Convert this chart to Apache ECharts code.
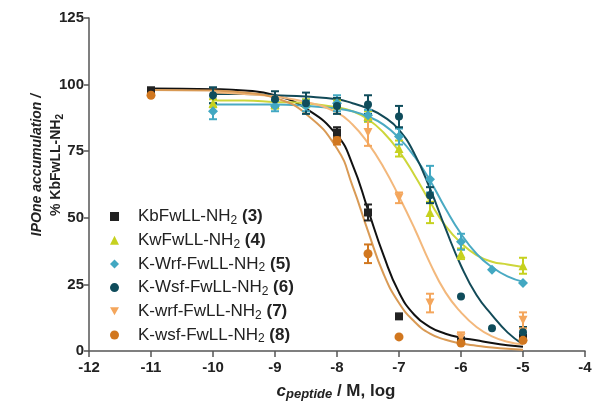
<!DOCTYPE html>
<html>
<head>
<meta charset="utf-8">
<script src="https://cdn.jsdelivr.net/npm/echarts@6/dist/echarts.min.js"></script>
<style>
  html, body { margin: 0; padding: 0; background: #fff; }
  #chart { width: 595px; height: 405px; }
</style>
</head>
<body>
<div id="chart"></div>
<script>
  // legend labels: peptide name (without the subscript 2) and compound number
  var peptideNames = ['KbFwLL-NH', 'KwFwLL-NH', 'K-Wrf-FwLL-NH', 'K-Wsf-FwLL-NH', 'K-wrf-FwLL-NH', 'K-wsf-FwLL-NH'];
  var peptideNums = ['3', '4', '5', '6', '7', '8'];

  // measured points: log c (M), % response, error (+/-)
  var x3 = [-11, -8, -7.5, -7, -6, -5];
  var y3 = [97.5, 82, 52, 13, 4, 5];
  var e3 = [1.5, 2, 3, 0, 0, 1];

  var x4 = [-10, -9, -8.5, -8, -7.5, -7, -6.5, -6, -5];
  var y4 = [93, 92.5, 93, 92.5, 88, 76, 52, 36.5, 32];
  var e4 = [1.5, 1.5, 1.5, 1.5, 2, 3, 4, 2, 3];

  var x5 = [-10, -9, -8.5, -8, -7.5, -7, -6.5, -6, -5.5, -5];
  var y5 = [90, 92, 92, 93, 88.5, 80.5, 64.5, 41, 30.5, 25.5];
  var e5 = [3, 2, 2, 3, 2, 3, 5, 3, 0, 0];

  var x6 = [-10, -9, -8.5, -8, -7.5, -7, -6.5, -6, -5.5, -5];
  var y6 = [96, 94.5, 93, 92, 92.5, 88, 58.5, 20.5, 8.5, 7];
  var e6 = [3, 3, 4, 3, 3.5, 4, 3, 0, 0, 2];

  var x7 = [-7.5, -7, -6.5, -6, -5];
  var y7 = [82, 57.5, 18, 5, 11.5];
  var e7 = [5, 2, 3.5, 2, 3];

  var x8 = [-11, -8, -7.5, -7, -6, -5];
  var y8 = [96, 79, 36.5, 5.3, 3, 4];
  var e8 = [0, 1.5, 3.5, 0, 0, 0];

  // fitted curves
  var fitX  = [-11, -10, -9.5, -9, -8.5, -8, -7.75, -7.5, -7.25, -7, -6.75, -6.5, -6.25, -6, -5.75, -5.5, -5.25, -5];
  var fit3  = [98.5, 98.3, 97.8, 96, 91, 81, 70, 53, 36, 22, 13.5, 9, 6.5, 5, 4, 3, 2.2, 1.6];
  var fit4  = [null, 94, 94, 93.5, 93, 91.5, 90, 87, 82, 75, 66, 56, 47, 40.5, 36, 33.5, 32.5, 31.5];
  var fit5  = [null, 92.5, 92.5, 92.5, 92, 91, 90, 88, 85, 80, 73, 64, 53.5, 44, 36.5, 31.5, 28, 26];
  var fit6  = [null, 96.5, 96.5, 96, 95.5, 94.5, 93, 91, 88, 83, 74, 61, 46, 32, 21, 13.5, 7, 2.5];
  var fit7  = [null, 97, 96.5, 95.5, 93.5, 89.5, 85, 78, 69, 58, 46, 33, 22, 14.5, 9, 5.5, 3.5, 2.5];
  var fit8  = [98, 97.8, 97, 95, 89, 76, 62, 45, 29, 18, 11, 6.5, 4.2, 2.8, 2, 1.3, 0.8, 0.5];

  var colors    = ['#222222', '#c6d11f', '#42a8c2', '#0f4c5b', '#f4a65c', '#d1771f'];
  var fitColors = ['#111111', '#cdd63a', '#4aaac3', '#124a58', '#f3b87c', '#d99a55'];
  var symbols   = ['rect', 'triangle', 'diamond', 'circle', 'triangle', 'circle'];
  var symRot    = [0, 0, 0, 0, 180, 0];
  var symSize   = [8, 9, 10, 8, 9, 9];
  // legend icons (inverted triangle as a path so it is drawn pointing down)
  var legendIcons = ['rect', 'triangle', 'diamond', 'circle', 'path://M0,0 L10,0 L5,9 Z', 'circle'];

  var xs = [x3, x4, x5, x6, x7, x8];
  var ys = [y3, y4, y5, y6, y7, y8];
  var es = [e3, e4, e5, e6, e7, e8];
  var fits = [fit3, fit4, fit5, fit6, fit7, fit8];

  var font = '"Liberation Sans", Arial, sans-serif';

  var seriesNames = peptideNames.map(function (n, i) { return n + '2 (' + peptideNums[i] + ')'; });

  var chart = echarts.init(document.getElementById('chart'));
  var series = [];

  // curves
  fits.forEach(function (f, i) {
    series.push({
      name: 'fit' + i,
      type: 'line',
      data: fitX.map(function (x, k) { return [x, f[k]]; }).filter(function (p) { return p[1] !== null; }),
      smooth: true,
      showSymbol: false,
      silent: true,
      z: 2,
      lineStyle: { color: fitColors[i], width: 2 }
    });
  });

  // error bars
  xs.forEach(function (xArr, i) {
    series.push({
      name: 'err' + i,
      type: 'custom',
      z: 3,
      silent: true,
      data: xArr.map(function (x, k) { return [x, ys[i][k], es[i][k]]; }),
      encode: { x: 0, y: 1 },
      renderItem: function (params, api) {
        var x = api.value(0), y = api.value(1), e = api.value(2);
        if (!e) return;
        var top = api.coord([x, y + e]);
        var bot = api.coord([x, y - e]);
        var w = 4;
        var st = { stroke: colors[i], lineWidth: 2 };
        return {
          type: 'group',
          children: [
            { type: 'line', shape: { x1: top[0], y1: top[1], x2: bot[0], y2: bot[1] }, style: st },
            { type: 'line', shape: { x1: top[0] - w, y1: top[1], x2: top[0] + w, y2: top[1] }, style: st },
            { type: 'line', shape: { x1: bot[0] - w, y1: bot[1], x2: bot[0] + w, y2: bot[1] }, style: st }
          ]
        };
      }
    });
  });

  // points
  xs.forEach(function (xArr, i) {
    series.push({
      name: seriesNames[i],
      type: 'scatter',
      z: 4,
      symbol: symbols[i],
      symbolRotate: symRot[i],
      symbolSize: symSize[i],
      itemStyle: { color: colors[i], opacity: 1 },
      data: xArr.map(function (x, k) { return [x, ys[i][k]]; })
    });
  });

  var option = {
    animation: false,
    backgroundColor: '#ffffff',
    grid: { left: 89, right: 10, top: 18, bottom: 54 },
    xAxis: {
      type: 'value',
      min: -12, max: -4, interval: 1,
      splitLine: { show: false },
      axisLine: { lineStyle: { color: '#555', width: 1.5 } },
      axisTick: { length: 6, lineStyle: { color: '#555', width: 1.5 } },
      axisLabel: { color: '#222', fontWeight: 'bold', fontSize: 15, fontFamily: font, margin: 9 }
    },
    yAxis: {
      type: 'value',
      min: 0, max: 125, interval: 25,
      splitLine: { show: false },
      axisLine: { show: true, lineStyle: { color: '#555', width: 1.5 } },
      axisTick: { show: true, length: 5, lineStyle: { color: '#555', width: 1.5 } },
      axisLabel: { color: '#222', fontWeight: 'bold', fontSize: 15, fontFamily: font, margin: 5 }
    },
    legend: {
      orient: 'vertical',
      left: 105, top: 203,
      itemWidth: 9, itemHeight: 9, itemGap: 5.2,
      data: seriesNames.map(function (n, i) {
        return { name: n, icon: legendIcons[i], itemStyle: { color: colors[i] } };
      }),
      formatter: function (name) {
        var i = seriesNames.indexOf(name);
        return '{a|' + peptideNames[i] + '}{s|2}{b| (' + peptideNums[i] + ')}';
      },
      textStyle: {
        fontFamily: font, fontSize: 17, color: '#222',
        rich: {
          a: { fontFamily: font, fontSize: 17, color: '#222', lineHeight: 20, padding: [0, 0, 0, 14] },
          s: { fontFamily: font, fontSize: 12, color: '#222', lineHeight: 12, verticalAlign: 'bottom' },
          b: { fontFamily: font, fontSize: 17, color: '#222', fontWeight: 'bold', lineHeight: 20 }
        }
      }
    },
    graphic: [
      {
        type: 'text', x: 37, y: 165, rotation: Math.PI / 2,
        style: {
          text: 'IPOne accumulation /',
          font: 'italic bold 14px ' + font,
          fill: '#222', align: 'center', verticalAlign: 'middle',
          textAlign: 'center', textVerticalAlign: 'middle'
        }
      },
      {
        type: 'text', x: 56, y: 165, rotation: Math.PI / 2,
        style: {
          text: '{a|% KbFwLL-NH}{s|2}',
          fill: '#222', align: 'center', verticalAlign: 'middle',
          textAlign: 'center', textVerticalAlign: 'middle',
          rich: {
            a: { font: 'bold 14px ' + font, fill: '#222', lineHeight: 18 },
            s: { font: 'bold 10px ' + font, fill: '#222', lineHeight: 10, verticalAlign: 'bottom' }
          }
        }
      },
      {
        type: 'text', x: 336, y: 391,
        style: {
          text: '{c|c}{p|peptide}{m| / M, log}',
          fill: '#222', align: 'center', verticalAlign: 'middle',
          textAlign: 'center', textVerticalAlign: 'middle',
          rich: {
            c: { font: 'italic bold 17px ' + font, fill: '#222', lineHeight: 20 },
            p: { font: 'italic bold 13px ' + font, fill: '#222', lineHeight: 13, verticalAlign: 'bottom' },
            m: { font: 'bold 17px ' + font, fill: '#222', lineHeight: 20 }
          }
        }
      }
    ],
    series: series
  };

  chart.setOption(option);
</script>
</body>
</html>
